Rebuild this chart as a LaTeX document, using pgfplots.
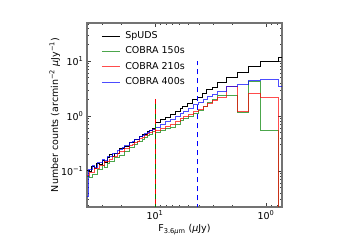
\documentclass[border=0pt]{standalone}
\usepackage{fontspec}
\setmainfont{DejaVu Sans}
\usepackage{pgfplots}
\pgfplotsset{compat=1.18}
\usepackage{pgfplotstable}
\definecolor{cg}{rgb}{0,0.5,0}
\definecolor{cr}{rgb}{1,0,0}
\definecolor{cb}{rgb}{0,0,1}

% x = log10(F / muJy) ; y = log10(number counts)
\pgfplotstableread{
x y
1.613 -0.999
1.590 -1.018
1.568 -0.919
1.545 -0.948
1.523 -0.869
1.500 -0.878
1.477 -0.807
1.455 -0.838
1.432 -0.757
1.410 -0.708
1.387 -0.737
1.365 -0.678
1.342 -0.687
1.320 -0.598
1.297 -0.597
1.275 -0.547
1.252 -0.557
1.230 -0.477
1.207 -0.487
1.185 -0.427
1.162 -0.436
1.140 -0.377
1.117 -0.336
1.095 -0.337
1.072 -0.286
1.050 -0.267
1.023 -0.221
1.000 -0.127
0.955 -0.073
0.910 -0.036
0.865 0.018
0.820 0.073
0.775 0.145
0.748 0.164
0.703 0.236
0.658 0.291
0.613 0.345
0.568 0.400
0.532 0.473
0.486 0.527
0.441 0.600
0.360 0.691
0.257 0.787
0.159 0.891
0.050 0.982
-0.111 1.060
-0.144 1.060
}\spuds

\pgfplotstableread{
x y
1.613 -1.099
1.590 -1.108
1.568 -1.059
1.545 -1.058
1.523 -0.979
1.500 -0.968
1.477 -0.897
1.455 -0.928
1.432 -0.867
1.410 -0.818
1.387 -0.827
1.365 -0.748
1.342 -0.757
1.320 -0.708
1.297 -0.717
1.275 -0.637
1.252 -0.637
1.230 -0.567
1.207 -0.567
1.185 -0.517
1.162 -0.466
1.140 -0.467
1.117 -0.416
1.095 -0.397
1.072 -0.346
1.050 -0.327
1.023 -0.281
1.000 -0.291
0.955 -0.255
0.910 -0.218
0.865 -0.200
0.820 -0.145
0.775 -0.073
0.748 -0.036
0.703 0.000
0.658 0.055
0.613 0.109
0.568 0.182
0.532 0.255
0.486 0.309
0.441 0.382
0.360 0.382
0.257 0.060
0.159 0.624
0.050 -0.255
-0.111 -2
-0.144 -2
}\cobraA

\pgfplotstableread{
x y
1.613 -1.079
1.590 -1.018
1.568 -1.029
1.545 -0.948
1.523 -0.949
1.500 -0.898
1.477 -0.897
1.455 -0.828
1.432 -0.827
1.410 -0.788
1.387 -0.737
1.365 -0.738
1.342 -0.687
1.320 -0.638
1.297 -0.637
1.275 -0.597
1.252 -0.587
1.230 -0.527
1.207 -0.517
1.185 -0.477
1.162 -0.456
1.140 -0.407
1.117 -0.386
1.095 -0.357
1.072 -0.316
1.050 -0.297
1.023 -0.251
1.000 -0.255
0.955 -0.218
0.910 -0.182
0.865 -0.145
0.820 -0.091
0.775 -0.036
0.748 0.000
0.703 0.036
0.658 0.091
0.613 0.127
0.568 0.182
0.532 0.236
0.486 0.291
0.441 0.345
0.360 0.545
0.257 0.091
0.159 0.418
0.050 0.336
-0.111 -2
-0.144 -2
}\cobraB

\pgfplotstableread{
x y
1.613 -1.470
1.600 -0.968
1.568 -0.899
1.545 -0.928
1.523 -0.849
1.500 -0.838
1.477 -0.797
1.455 -0.808
1.432 -0.727
1.410 -0.728
1.387 -0.687
1.365 -0.688
1.342 -0.617
1.320 -0.608
1.297 -0.577
1.275 -0.537
1.252 -0.537
1.230 -0.487
1.207 -0.467
1.185 -0.427
1.162 -0.416
1.140 -0.377
1.117 -0.356
1.095 -0.317
1.072 -0.306
1.050 -0.267
1.023 -0.241
1.000 -0.200
0.955 -0.145
0.910 -0.091
0.865 -0.055
0.820 0.000
0.775 0.055
0.748 0.091
0.703 0.145
0.658 0.218
0.613 0.255
0.568 0.309
0.532 0.364
0.486 0.400
0.441 0.455
0.360 0.545
0.257 0.582
0.159 0.655
0.050 0.673
-0.111 0.533
-0.144 0.533
}\cobraC

\begin{document}
\begin{tikzpicture}[font=\fontsize{9.5}{11}\selectfont]
\useasboundingbox (-87pt,-33pt) rectangle (273pt,207pt);
\begin{axis}[
  scale only axis, width=195pt, height=184pt,
  at={(0,0)}, anchor=south west,
  xmin=-0.144, xmax=1.613, ymin=-1.655, ymax=1.691,
  x dir=reverse,
  xtick={0,1}, xticklabels={10\textsuperscript{0},10\textsuperscript{1}},
  ytick={-1,0,1}, yticklabels={10\textsuperscript{−1},10\textsuperscript{0},10\textsuperscript{1}},
  minor xtick={-0.097,-0.046,0.301,0.477,0.602,0.699,0.778,0.845,0.903,0.954,1.301,1.477,1.602},
  minor ytick={-1.523,-1.398,-1.301,-1.222,-1.155,-1.097,-1.046,-0.699,-0.523,-0.398,-0.301,-0.222,-0.155,-0.097,-0.046,0.301,0.477,0.602,0.699,0.778,0.845,0.903,0.954,1.301,1.477,1.602},
  tick align=inside, tick pos=both,
  major tick length=4pt, minor tick length=2pt,
  every tick/.style={black!75, line width=0.5pt},
  axis line style={black!55, line width=1.1pt},
  xlabel={F\textsubscript{3.6{\itshape μ}m} ({\itshape μ}Jy)},
  ylabel={Number counts (arcmin\textsuperscript{−2} {\itshape μ}Jy\textsuperscript{−1})},
  xlabel style={at={(axis description cs:0.5,-0.125)}, anchor=center},
  ylabel style={at={(axis description cs:-0.165,0.5)}, anchor=center},
  legend cell align=left,
  legend image code/.code={\draw[#1, sharp plot] (0pt,0pt) -- (18pt,0pt);},
  legend style={draw=none, fill=none, at={(axis description cs:0.057,0.971)}, anchor=north west,
    row sep=4.3pt, column sep=4pt, nodes={inner sep=1pt, text height=7pt, text depth=2pt}},
]
\addplot[const plot, black, line width=1pt] table {\spuds};
\addlegendentry{SpUDS}
\addplot[const plot, cg, opacity=0.7, line width=0.7pt] table {\cobraA};
\addlegendentry{COBRA 150s}
\addplot[const plot, cr, opacity=0.7, line width=0.7pt] table {\cobraB};
\addlegendentry{COBRA 210s}
\addplot[const plot, cb, opacity=0.7, line width=0.7pt] table {\cobraC};
\addlegendentry{COBRA 400s}
\addplot[forget plot, sharp plot, cg, line width=0.8pt, dash pattern=on 5pt off 5pt] coordinates {(1,-1.7) (1,0.309)};
\addplot[forget plot, sharp plot, cr, line width=0.8pt, dash pattern=on 5pt off 5pt, dash phase=5pt] coordinates {(1,-1.7) (1,0.309)};
\addplot[forget plot, sharp plot, cb, line width=0.8pt, dash pattern=on 5pt off 4pt] coordinates {(0.615,-1.7) (0.615,1.0)};
\end{axis}
\end{tikzpicture}
\end{document}
